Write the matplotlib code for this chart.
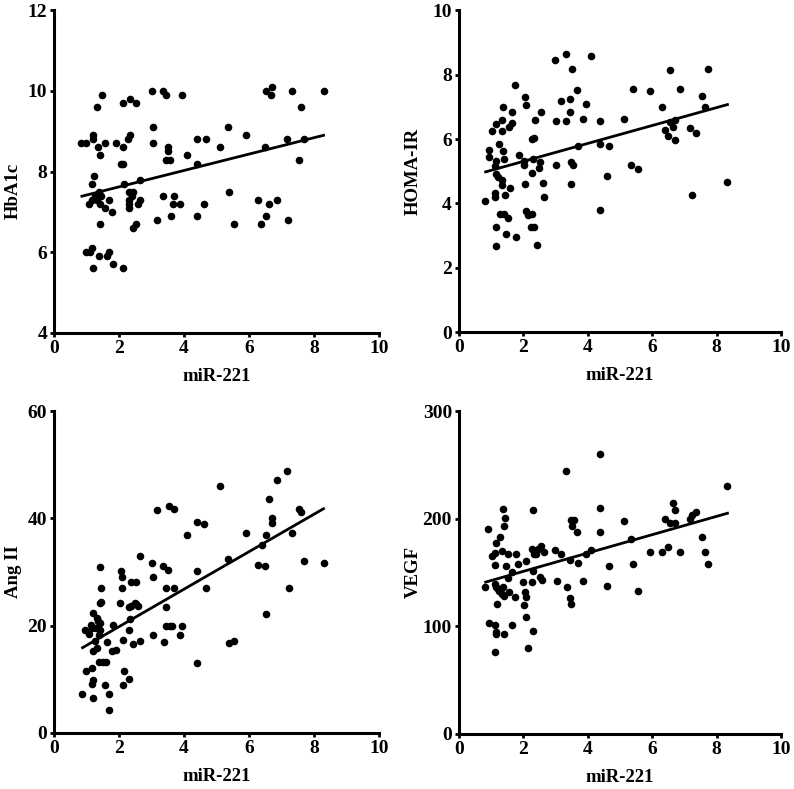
import matplotlib
matplotlib.use("Agg")
import matplotlib.pyplot as plt
import numpy as np

plt.rcParams['font.family'] = ['Liberation Serif', 'DejaVu Serif']
plt.rcParams['font.weight'] = 'bold'

xlabel = "miR-221"

# Panel 1: HbA1c
hba1c_x = [0.83, 1.0, 1.0, 1.17, 1.19, 1.09, 1.17, 1.23, 1.21, 1.21, 1.33, 1.47, 1.37, 1.41, 1.58,
           1.9, 2.05, 2.13, 2.11, 2.11, 2.34, 2.52, 2.29, 2.34, 2.15, 2.64, 1.39, 1.26, 1.46, 1.41,
           1.58, 1.68, 1.78, 1.41, 1.11, 1.39, 1.62, 1.68, 1.82, 2.13, 1.17, 1.31, 2.31, 2.42, 2.31,
           2.31, 2.31, 2.39, 2.64, 2.58, 2.44, 2.52, 3.01, 3.36, 3.46, 3.95, 3.05, 3.05, 3.5, 3.52,
           3.46, 3.56, 3.18, 3.36, 3.69, 3.67, 3.87, 3.61, 4.1, 4.39, 4.39, 4.67, 4.61, 4.39, 5.1,
           5.35, 5.39, 5.55, 5.92, 6.29, 6.37, 6.54, 6.5, 6.52, 6.72, 6.68, 6.62, 6.86, 7.21, 7.17,
           7.34, 7.54, 7.6, 7.7, 8.3]
hba1c_y = [8.7, 8.7, 6.0, 6.1, 5.6, 7.2, 7.7, 7.9, 8.9, 8.8, 9.6, 9.9, 8.6, 8.4, 8.7,
           8.7, 8.2, 8.2, 8.6, 9.7, 9.8, 9.7, 8.8, 8.9, 7.7, 7.8, 7.5, 7.4, 7.4, 7.2,
           7.1, 7.3, 7.0, 6.7, 6.0, 5.9, 5.9, 6.0, 5.7, 5.6, 7.3, 7.3, 7.5, 7.5, 7.3,
           7.2, 7.1, 7.4, 7.3, 7.2, 6.6, 6.7, 10.0, 10.0, 9.9, 9.9, 9.1, 8.7, 8.6, 8.5,
           8.3, 8.3, 6.8, 7.4, 7.4, 7.2, 7.2, 6.9, 8.4, 8.8, 8.2, 8.8, 7.2, 6.9, 8.6,
           9.1, 7.5, 6.7, 8.9, 7.3, 6.7, 6.9, 8.6, 10.0, 10.1, 9.9, 7.2, 7.3, 6.8, 8.8,
           10.0, 8.3, 9.6, 8.8, 10.0]
hba1c_fit_x = [0.86, 8.3]
hba1c_fit_y = [7.39, 8.9]

# Panel 2: HOMA-IR
homa_x = [0.81, 0.93, 0.93, 1.02, 1.16, 1.37, 1.24, 1.14, 1.12, 1.16, 1.22, 1.12, 1.12, 1.16, 1.16,
          1.35, 1.35, 1.37, 1.41, 1.33, 1.35, 1.43, 1.28, 1.41, 1.53, 1.47, 1.6, 1.57, 1.66, 1.64,
          1.74, 1.78, 1.86, 2.05, 2.07, 2.01, 2.03, 2.05, 2.09, 2.14, 2.28, 2.24, 2.32, 2.42, 2.3,
          2.28, 2.28, 2.34, 2.36, 2.55, 2.51, 2.49, 2.61, 2.63, 2.97, 3.34, 3.52, 4.1, 3.02, 3.17,
          3.0, 3.34, 3.46, 3.46, 3.48, 3.48, 3.54, 3.67, 3.69, 3.85, 3.96, 4.37, 4.37, 4.37, 4.6,
          4.66, 5.12, 5.35, 5.41, 5.55, 5.93, 6.3, 6.4, 6.5, 6.55, 6.55, 6.65, 6.72, 6.7, 6.88,
          7.19, 7.25, 7.36, 7.56, 7.65, 7.75, 8.33]
homa_y = [4.08, 5.66, 5.45, 6.25, 6.48, 7.0, 5.84, 5.33, 5.16, 4.91, 4.83, 4.33, 4.19, 3.28, 2.69,
          6.59, 6.25, 5.64, 5.37, 4.73, 4.57, 4.26, 3.67, 3.67, 3.54, 3.04, 4.48, 6.38, 6.5, 6.85,
          7.67, 2.97, 5.5, 7.31, 7.05, 5.33, 5.18, 4.59, 3.77, 3.64, 3.67, 3.26, 3.26, 2.71, 5.37,
          4.95, 5.99, 6.03, 6.59, 6.85, 5.28, 5.09, 4.64, 4.19, 8.47, 8.63, 8.17, 8.58, 6.57, 7.18,
          5.19, 6.57, 7.23, 6.83, 5.29, 4.6, 5.19, 7.52, 5.79, 6.61, 7.1, 6.57, 5.86, 3.8, 4.85,
          5.78, 6.61, 5.2, 7.56, 5.08, 7.49, 7.0, 6.28, 6.09, 8.14, 6.54, 6.36, 6.59, 5.97, 7.54,
          6.35, 4.27, 6.19, 7.33, 7.0, 8.19, 4.67]
homa_fit_x = [0.83, 8.34]
homa_fit_y = [4.98, 7.07]

# Panel 3: Ang II
ang_x = [0.86, 0.98, 0.96, 1.07, 1.13, 1.17, 1.21, 1.19, 1.17, 1.21, 1.17, 1.21, 1.31, 1.29, 1.27,
         1.33, 1.37, 1.39, 1.41, 1.43, 1.41, 1.45, 1.41, 1.45, 1.39, 1.52, 1.6, 1.58, 1.64, 1.68,
         1.68, 1.78, 1.82, 1.9, 2.03, 2.07, 2.09, 2.09, 2.13, 2.17, 2.13, 2.31, 2.31, 2.34, 2.31,
         2.36, 2.38, 2.48, 2.42, 2.52, 2.52, 2.58, 2.66, 2.64, 3.03, 3.05, 3.05, 3.18, 3.36, 3.38,
         3.46, 3.52, 3.46, 3.46, 3.56, 3.63, 3.55, 3.69, 3.71, 3.87, 3.95, 4.1, 4.39, 4.39, 4.39,
         4.61, 4.67, 5.1, 5.35, 5.39, 5.55, 5.92, 6.29, 6.39, 6.52, 6.5, 6.54, 6.62, 6.7, 6.72,
         6.86, 7.19, 7.23, 7.34, 7.54, 7.6, 7.7, 8.3]
ang_y = [7.25, 11.6, 19.2, 18.4, 20.1, 19.5, 22.3, 15.2, 12.2, 9.9, 9.2, 6.5, 21.5, 19.5, 17.2,
         15.8, 20.8, 18.2, 19.2, 20.5, 30.9, 27.1, 24.2, 24.5, 13.3, 13.3, 13.2, 9.0, 16.9, 7.25,
         4.3, 15.2, 20.1, 15.5, 24.2, 30.2, 29.1, 27.1, 17.3, 11.6, 9.0, 10.0, 19.2, 21.3, 23.4,
         23.7, 28.1, 24.2, 16.6, 28.2, 24.0, 23.6, 17.2, 33.0, 31.6, 29.0, 18.2, 41.5, 31.2, 17.0,
         27.1, 30.4, 23.4, 20.0, 20.0, 20.0, 42.3, 41.7, 27.1, 18.2, 20.0, 36.9, 39.4, 30.1, 13.0,
         39.0, 27.1, 46.1, 32.4, 16.7, 17.2, 37.3, 31.3, 35.0, 36.9, 31.2, 22.1, 43.6, 39.1, 40.1,
         47.2, 48.8, 27.1, 37.3, 41.8, 41.1, 32.1, 31.7]
ang_fit_x = [0.88, 8.3]
ang_fit_y = [15.9, 41.8]

# Panel 4: VEGF
vegf_x = [0.81, 0.91, 0.93, 1.04, 1.12, 1.16, 1.12, 1.12, 1.16, 1.22, 1.18, 1.12, 1.16, 1.14, 1.12,
          1.29, 1.33, 1.26, 1.33, 1.37, 1.43, 1.39, 1.37, 1.39, 1.39, 1.47, 1.53, 1.53, 1.57, 1.64,
          1.66, 1.74, 1.78, 1.84, 1.99, 2.07, 2.05, 2.09, 2.03, 2.09, 2.14, 2.26, 2.3, 2.3, 2.3,
          2.28, 2.32, 2.38, 2.45, 2.55, 2.51, 2.59, 2.63, 2.98, 3.05, 3.17, 3.34, 3.36, 3.46, 3.46,
          3.48, 3.48, 3.58, 3.52, 3.67, 3.69, 3.85, 3.96, 4.1, 4.37, 4.37, 4.37, 4.6, 4.66, 5.12,
          5.35, 5.41, 5.55, 5.93, 6.3, 6.4, 6.5, 6.55, 6.65, 6.72, 6.72, 6.88, 7.19, 7.25, 7.36,
          7.56, 7.65, 7.75, 8.33]
vegf_y = [136, 190, 103, 165, 168, 177, 157, 139, 136, 135, 121, 101, 95, 93, 76,
          183, 170, 133, 130, 209, 201, 193, 136, 128, 93, 156, 145, 167, 132, 150,
          101, 127, 167, 158, 141, 161, 132, 127, 120, 109, 80, 141, 208, 151, 96,
          172, 167, 167, 172, 175, 146, 143, 169, 171, 142, 167, 244, 136, 162, 126,
          121, 199, 199, 193, 188, 159, 142, 167, 171, 260, 210, 188, 137, 156, 198,
          181, 158, 133, 169, 169, 200, 174, 196, 215, 208, 196, 169, 200, 203, 206,
          183, 169, 158, 230]
vegf_fit_x = [0.83, 8.34]
vegf_fit_y = [141, 205]

panels = [
    ("HbA1c", hba1c_x, hba1c_y, hba1c_fit_x, hba1c_fit_y, (4, 12), [4, 6, 8, 10, 12],
     [0.068, 0.578, 0.409, 0.409], (-0.098, 0.44)),
    ("HOMA-IR", homa_x, homa_y, homa_fit_x, homa_fit_y, (0, 10), [0, 2, 4, 6, 8, 10],
     [0.578, 0.579, 0.4055, 0.408], (-0.115, 0.5)),
    ("Ang II", ang_x, ang_y, ang_fit_x, ang_fit_y, (0, 60), [0, 20, 40, 60],
     [0.068, 0.071, 0.409, 0.408], (-0.098, 0.5)),
    ("VEGF", vegf_x, vegf_y, vegf_fit_x, vegf_fit_y, (0, 300), [0, 100, 200, 300],
     [0.578, 0.070, 0.4055, 0.409], (-0.115, 0.5)),
]

fig = plt.figure(figsize=(7.94, 7.89), dpi=100)
for ylabel, xs, ys, fx, fy, ylim, yticks, pos, lc in panels:
    ax = fig.add_axes(pos)
    ax.scatter(xs, ys, s=30, color='black', zorder=3, linewidths=0, clip_on=False)
    ax.plot(fx, fy, color='black', lw=2.0, zorder=2)
    ax.set_xlim(0, 10)
    ax.set_ylim(*ylim)
    ax.set_xticks([0, 2, 4, 6, 8, 10])
    ax.set_yticks(yticks)
    for s in ['top', 'right']:
        ax.spines[s].set_visible(False)
    for s in ['left', 'bottom']:
        ax.spines[s].set_linewidth(2.2)
    ax.tick_params(direction='out', length=3, width=2, labelsize=14, pad=2)
    for lab in ax.get_xticklabels() + ax.get_yticklabels():
        lab.set_fontweight('bold')
    ax.set_xlabel(xlabel, fontsize=13.5, fontweight='bold', labelpad=8)
    ax.set_ylabel(ylabel, fontsize=13.5, fontweight='bold')
    ax.yaxis.set_label_coords(*lc)

fig.savefig("out.png", dpi=100)
